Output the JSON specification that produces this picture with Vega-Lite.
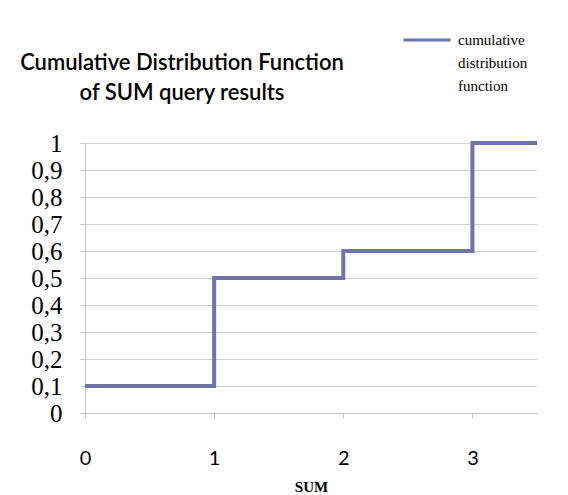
{
  "$schema": "https://vega.github.io/schema/vega-lite/v6.json",
  "width": 452,
  "height": 270,
  "autosize": {"type": "none"},
  "padding": {"left": 85, "top": 143, "right": 31, "bottom": 82},
  "background": "white",
  "title": {
    "text": ["Cumulative Distribution Function", "of SUM query results"],
    "anchor": "start",
    "frame": "group",
    "align": "center",
    "dx": 97,
    "offset": 0,
    "dy": 90,
    "font": "Lato",
    "fontSize": 22,
    "fontWeight": 600,
    "lineHeight": 30,
    "color": "#000000"
  },
  "data": {
    "values": [
      {"sum": 0, "cdf": 0.1, "series": "cumulative distribution function"},
      {"sum": 1, "cdf": 0.5, "series": "cumulative distribution function"},
      {"sum": 2, "cdf": 0.6, "series": "cumulative distribution function"},
      {"sum": 3, "cdf": 1.0, "series": "cumulative distribution function"},
      {"sum": 3.5, "cdf": 1.0, "series": "cumulative distribution function"}
    ]
  },
  "mark": {"type": "line", "interpolate": "step-after", "strokeWidth": 4},
  "encoding": {
    "x": {
      "field": "sum",
      "type": "quantitative",
      "scale": {"domain": [0, 3.5], "nice": false, "zero": false},
      "axis": {
        "title": "SUM",
        "values": [0, 1, 2, 3],
        "grid": false,
        "labelFlush": false,
        "domainColor": "#c8c8c8",
        "tickColor": "#c8c8c8",
        "tickSize": 5,
        "labelFont": "Lato",
        "labelFontSize": 20,
        "labelColor": "#000000",
        "labelPadding": 30,
        "titleFont": "Liberation Serif",
        "titleFontSize": 15,
        "titleFontWeight": "bold",
        "titleColor": "#000000",
        "titlePadding": 11
      }
    },
    "y": {
      "field": "cdf",
      "type": "quantitative",
      "scale": {"domain": [0, 1], "nice": false},
      "axis": {
        "title": null,
        "values": [0, 0.1, 0.2, 0.3, 0.4, 0.5, 0.6, 0.7, 0.8, 0.9, 1],
        "labelExpr": "replace(format(datum.value, '.1~f'), '.', ',')",
        "grid": true,
        "gridColor": "#d0d0d0",
        "domainColor": "#c8c8c8",
        "tickColor": "#c8c8c8",
        "tickSize": 5,
        "labelFont": "Liberation Serif",
        "labelFontSize": 25,
        "labelColor": "#000000",
        "labelPadding": 18
      }
    },
    "color": {
      "field": "series",
      "type": "nominal",
      "scale": {"range": ["#6f74a8"]},
      "legend": {
        "title": null,
        "orient": "none",
        "legendX": 317,
        "legendY": -128,
        "symbolType": "stroke",
        "symbolStrokeWidth": 3,
        "symbolSize": 2209,
        "labelExpr": "['cumulative', 'distribution', 'function']",
        "labelFont": "Liberation Serif",
        "labelFontSize": 15,
        "labelColor": "#000000",
        "labelLimit": 200,
        "labelOffset": 6
      }
    }
  },
  "config": {
    "view": {"stroke": null},
    "style": {"guide-label": {"lineHeight": 23}}
  }
}
